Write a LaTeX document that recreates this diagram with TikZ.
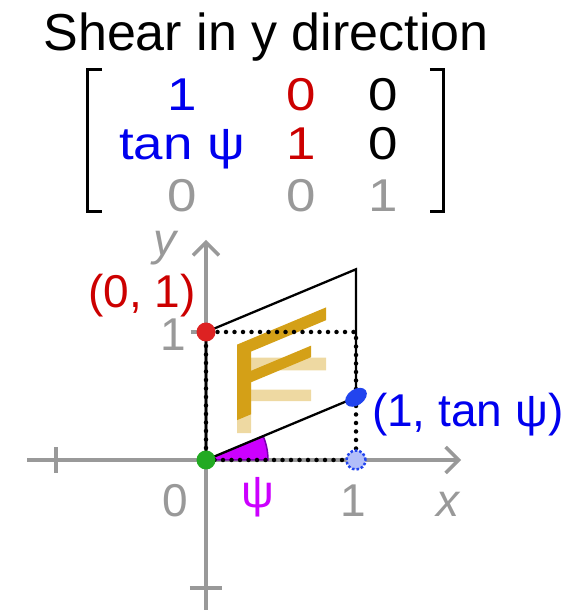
\documentclass[tikz,border=0pt]{standalone}
\usepackage{fontspec}
\setmainfont{Liberation Sans}
\newfontfamily\matfont[FakeStretch=1.15]{Liberation Sans}
\usepackage{tikz}
\usetikzlibrary{positioning, calc, arrows.meta}
\definecolor{axisgray}{HTML}{999999}
\definecolor{vecblue}{HTML}{0000EE}
\definecolor{vecred}{HTML}{CC0000}
\definecolor{fgold}{HTML}{D4A017}
\definecolor{psiviolet}{HTML}{CC00FF}
\definecolor{psiedge}{HTML}{7A00B0}
\definecolor{dotgreen}{HTML}{22AA22}
\definecolor{dotred}{HTML}{DD2222}
\definecolor{dotblue}{HTML}{2244EE}

\newcommand{\tanpsi}{0.49}
% the letter F, sheared in y by #1
\newcommand{\drawF}[2]{\fill[#2] (0.207,{0.21+#1*0.207}) -- (0.3,{0.21+#1*0.3}) -- (0.3,{0.46+#1*0.3}) -- (0.7,{0.46+#1*0.7}) -- (0.7,{0.55+#1*0.7}) -- (0.3,{0.55+#1*0.3}) -- (0.3,{0.70+#1*0.3}) -- (0.8,{0.70+#1*0.8}) -- (0.8,{0.80+#1*0.8}) -- (0.207,{0.80+#1*0.207}) -- cycle;}

\begin{document}
\begin{tikzpicture}[x=150pt, y=128pt, every node/.style={inner sep=0pt, outer sep=0pt},
  axis/.style={draw=axisgray, line width=3.5pt},
  lbl/.style={font=\fontsize{46}{46}\selectfont, anchor=base},
  entry/.style={font=\fontsize{46}{46}\matfont, anchor=base},
  dotline/.style={line width=4.5pt, dash pattern=on 0pt off 8.5pt, line cap=round}]
\useasboundingbox (-206pt,-150pt) rectangle (361pt,460pt);
\pgfmathsetmacro{\angpsi}{atan(\tanpsi*128/150)}

% Title and matrix
\node[font=\fontsize{52}{52}\selectfont, anchor=base] (title) at (0.4,3.203) {Shear in y direction};
\node[entry, vecblue] (m11) at (-0.16,2.734) {1};
\node[entry, vecred] (m12) at (0.633,2.734) {0};
\node[entry] (m13) at (1.18,2.734) {0};
\node[entry, vecblue] (m21) at (-0.16,2.344) {tan ψ};
\node[entry, vecred] (m22) at (0.633,2.344) {1};
\node[entry] (m23) at (1.18,2.344) {0};
\node[entry, axisgray] (m31) at (-0.16,1.94) {0};
\node[entry, axisgray] (m32) at (0.633,1.94) {0};
\node[entry, axisgray] (m33) at (1.18,1.94) {1};
\draw[line width=3pt] (-0.693,3.047) -- (-0.787,3.047) -- (-0.787,1.9375) -- (-0.693,1.9375);
\draw[line width=3pt] (1.493,3.047) -- (1.58,3.047) -- (1.58,1.9375) -- (1.493,1.9375);

% Points
\coordinate (O) at (0,0);
\coordinate (P10) at (1,0);
\coordinate (P01) at (0,1);
\coordinate (P11) at (1,1);
\coordinate (P1t) at (1,\tanpsi);
\coordinate (P1t1) at (1,{1+\tanpsi});
\coordinate (xstart) at (-1.193,0);
\coordinate (xend) at (1.70,0);
\coordinate (ystart) at (0,-1.172);
\coordinate (yend) at (0,1.719);

% Axes
\draw[axis, -{Straight Barb[length=13pt, width=26pt]}] (xstart) -- (xend);
\draw[axis, -{Straight Barb[length=13pt, width=26pt]}] (ystart) -- (yend);
\draw[axis] (-1,-0.1) -- (-1,0.1);
\draw[axis] (-0.107,-1) -- (0.107,-1);
\draw[axis] (-0.1,1) -- (P01);

% F before and after
\drawF{0}{fgold, opacity=0.4}
\drawF{\tanpsi}{fgold}

% Angle
\filldraw[fill=psiviolet, draw=psiedge, line width=1.5pt] (O) -- ++(62pt,0) arc[start angle=0, end angle=\angpsi, radius=62pt] -- cycle;

% Unit square and its image
\draw[dotline] (O) -- (P10) -- (P11) -- (P01) -- cycle;
\draw[line width=2.3pt] (O) -- (P1t) -- (P1t1) -- (P01) -- cycle;

% Dots
\node[circle, fill=dotgreen, minimum size=19pt] (dotO) at (O) {};
\node[circle, fill=dotred, minimum size=19pt] (dot01) at (P01) {};
\node[circle, fill=dotblue!35, draw=dotblue, dotted, line width=2.5pt, minimum size=19pt] (dot10) at (P10) {};
\fill[dotblue, rotate around={35:(P1t)}] (P1t) ellipse[x radius=12pt, y radius=8pt];

% Labels
\node[lbl, axisgray] (lbl0) at (-0.207,-0.445) {0};
\node[lbl, axisgray] (lblx1) at (0.98,-0.445) {1};
\node[lbl, axisgray, font=\fontsize{46}{46}\selectfont\itshape] (lblx) at (1.613,-0.445) {x};
\node[lbl, axisgray] (lbly1) at (-0.22,0.859) {1};
\node[lbl, axisgray, font=\fontsize{46}{46}\selectfont\itshape] (lbly) at (-0.273,1.60) {y};
\node[lbl, psiviolet] (lblpsi) at (0.347,-0.375) {ψ};
\node[lbl, vecred] (lbl01) at (-0.427,1.1875) {(0, 1)};
\node[lbl, vecblue, anchor=base west] (lbl1t) at (1.107,0.258) {(1, tan ψ)};
\end{tikzpicture}
\end{document}
